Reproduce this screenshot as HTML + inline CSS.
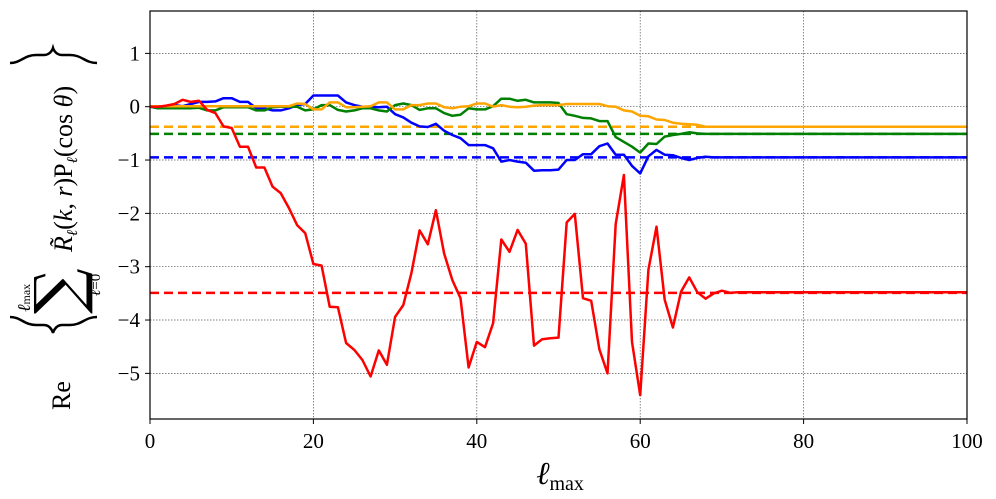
<!DOCTYPE html>
<html><head><meta charset="utf-8"><style>
html,body{margin:0;padding:0;background:#fff;}
svg{display:block;font-family:"Liberation Serif",serif;}
</style></head><body>
<svg id="chart" width="996" height="499" viewBox="0 0 996 499" xmlns="http://www.w3.org/2000/svg">
<g id="grid"></g>
<g id="series"></g>
<rect x="150" y="11" width="817" height="408" fill="none" stroke="#000" stroke-width="1.2"/>
<g id="ticks"></g>
<text x="560" y="484" font-size="32" text-anchor="middle" font-style="italic">ℓ<tspan font-size="20" font-style="normal" dy="6">max</tspan></text>
<g transform="rotate(-90)">
  <text x="-410" y="70" font-size="26">Re</text>
  <path d="M-317,97 C-317,85 -325,82 -325,70 L-325,62 C-325,55 -333,53 -333,53 C-333,53 -325,51 -325,44 L-325,36 C-325,24 -317,21 -317,10" fill="none" stroke="#000" stroke-width="2.5"/>
  <text x="-314" y="80" font-size="64" font-family="DejaVu Serif, serif">∑</text>
  <text x="-312" y="30" font-size="18" font-style="italic">ℓ<tspan font-size="12" font-style="normal">max</tspan></text>
  <text x="-296" y="100" font-size="15" font-style="italic">ℓ<tspan font-style="normal">=0</tspan></text>
  <text x="-252" y="72" font-size="26"><tspan font-style="italic">R̃</tspan><tspan font-size="15" font-style="italic" dy="5">ℓ</tspan><tspan dy="-5">(</tspan><tspan font-style="italic">k, r</tspan>)P<tspan font-size="15" font-style="italic" dy="5">ℓ</tspan><tspan dy="-5">(cos </tspan><tspan font-style="italic">θ</tspan>)</text>
  <path d="M-63,97 C-63,85 -55,82 -55,70 L-55,62 C-55,55 -48,53 -48,53 C-48,53 -55,51 -55,44 L-55,36 C-55,24 -63,21 -63,10" fill="none" stroke="#000" stroke-width="2.5"/>
</g>
</svg>
<script>
const xTicks = [0, 20, 40, 60, 80, 100];
const yTicks = [1, 0, -1, -2, -3, -4, -5];
const redVals = [0,0,0.02,0.05,0.13,0.09,0.11,-0.06,-0.12,-0.37,-0.4,-0.75,-0.75,-1.14,-1.14,-1.5,-1.62,-1.9,-2.22,-2.37,-2.95,-2.98,-3.75,-3.76,-4.43,-4.56,-4.75,-5.06,-4.57,-4.84,-3.94,-3.72,-3.12,-2.32,-2.58,-1.94,-2.75,-3.25,-3.59,-4.89,-4.41,-4.51,-4.06,-2.49,-2.72,-2.31,-2.57,-4.48,-4.36,-4.34,-4.33,-2.17,-2.01,-3.59,-3.64,-4.55,-5.0,-2.2,-1.28,-4.41,-5.41,-3.06,-2.25,-3.62,-4.14,-3.47,-3.2,-3.48,-3.6,-3.5,-3.45,-3.49,-3.48,-3.48,-3.48,-3.48,-3.48,-3.48,-3.48,-3.48,-3.48];
const blueVals = [0,-0.03,0,0.03,0.01,0.05,0.09,0.09,0.1,0.16,0.16,0.09,0.09,-0.03,-0.03,-0.07,-0.07,-0.03,0.03,0.05,0.21,0.21,0.21,0.21,0.08,0.03,0,0,-0.01,0,-0.14,-0.2,-0.3,-0.37,-0.38,-0.32,-0.45,-0.53,-0.59,-0.72,-0.72,-0.72,-0.78,-1.03,-1.0,-1.03,-1.05,-1.2,-1.19,-1.19,-1.18,-1.0,-1.0,-0.89,-0.89,-0.74,-0.69,-0.9,-0.9,-1.11,-1.25,-0.93,-0.81,-0.9,-0.91,-0.96,-1.0,-0.96,-0.94,-0.95,-0.95];
const greenVals = [0,-0.03,-0.03,-0.03,-0.03,-0.03,-0.02,-0.07,-0.07,-0.01,-0.01,-0.01,-0.01,-0.07,-0.07,-0.01,0,0,0,-0.07,-0.05,0.03,0.03,-0.06,-0.09,-0.07,-0.03,-0.03,-0.07,-0.09,0.03,0.06,0.03,-0.06,-0.03,-0.03,-0.12,-0.17,-0.15,-0.03,-0.05,-0.05,0.01,0.15,0.15,0.11,0.13,0.08,0.08,0.08,0.07,-0.14,-0.17,-0.21,-0.22,-0.27,-0.27,-0.57,-0.66,-0.75,-0.86,-0.69,-0.7,-0.56,-0.53,-0.51,-0.48,-0.5,-0.51];
const orangeVals = [0.01,0.01,0.01,0.01,0.01,0.01,0.01,0.01,0.01,0.01,0.01,0.01,0.01,0.01,0.01,0.01,0.01,0.01,0.06,0.05,-0.05,-0.05,0.08,0.08,-0.01,-0.01,0,0.01,0.08,0.08,-0.05,-0.05,0.03,0.03,0.06,0.06,-0.01,-0.03,0,0.01,0.06,0.06,0,0.03,0,-0.01,0,0.02,0.03,0.03,0.03,0.05,0.05,0.05,0.05,0.05,0.01,0,-0.07,-0.09,-0.17,-0.18,-0.24,-0.25,-0.3,-0.32,-0.33,-0.34,-0.375];
const means = [-3.49, -0.95, -0.51, -0.375];
const colors = ['#ff0000', '#0000ff', '#008000', '#ffa500'];
const seriesNames = ['red', 'blue', 'green', 'orange'];
const NS = 'http://www.w3.org/2000/svg';
const X = v => 150 + v * 8.17;
const Y = v => 106.7 - v * 53.33;
function mk(tag, attrs, parent) {
  const e = document.createElementNS(NS, tag);
  for (const k in attrs) e.setAttribute(k, attrs[k]);
  parent.appendChild(e);
  return e;
}
const grid = document.getElementById('grid');
const ticks = document.getElementById('ticks');
xTicks.forEach(t => {
  const g = mk('line', {x1: X(t), x2: X(t), y1: 11, y2: 419, stroke: '#555', 'stroke-width': 0.7, 'stroke-dasharray': '1.5,1.5'}, grid);
  
  
  const tk = mk('line', {x1: X(t), x2: X(t), y1: 419, y2: 424, stroke: '#000', 'stroke-width': 1}, ticks);
  
  
  const tx = mk('text', {x: X(t), y: 448, 'font-size': 21, 'text-anchor': 'middle'}, ticks);
  tx.textContent = t;
  
  
});
yTicks.forEach(t => {
  const g = mk('line', {x1: 150, x2: 967, y1: Y(t), y2: Y(t), stroke: '#555', 'stroke-width': 0.7, 'stroke-dasharray': '1.5,1.5'}, grid);
  
  
  const tk = mk('line', {x1: 145, x2: 150, y1: Y(t), y2: Y(t), stroke: '#000', 'stroke-width': 1}, ticks);
  
  
  const tx = mk('text', {x: 140, y: Y(t) + 7, 'font-size': 21, 'text-anchor': 'end'}, ticks);
  tx.textContent = t < 0 ? '\u2212' + (-t) : String(t);
  
  
});
const series = document.getElementById('series');
[redVals, blueVals, greenVals, orangeVals].forEach((vals, i) => {
  const dl = mk('line', {x1: X(0), x2: X(100), y1: Y(means[i]), y2: Y(means[i]), stroke: colors[i], 'stroke-width': 2.5, 'stroke-dasharray': '9,5'}, series);
  
  
});
const all = [redVals, blueVals, greenVals, orangeVals];
[1, 2, 3, 0].forEach(i => {
  const vals = all[i].slice();
  const last = vals[vals.length - 1];
  while (vals.length < 101) vals.push(last);
  const pts = vals.map((v, k) => X(k).toFixed(1) + ',' + Y(v).toFixed(1)).join(' ');
  const pl = mk('polyline', {points: pts, fill: 'none', stroke: colors[i], 'stroke-width': 2.5, 'stroke-linejoin': 'round'}, series);
  
  
});
</script>
</body></html>
